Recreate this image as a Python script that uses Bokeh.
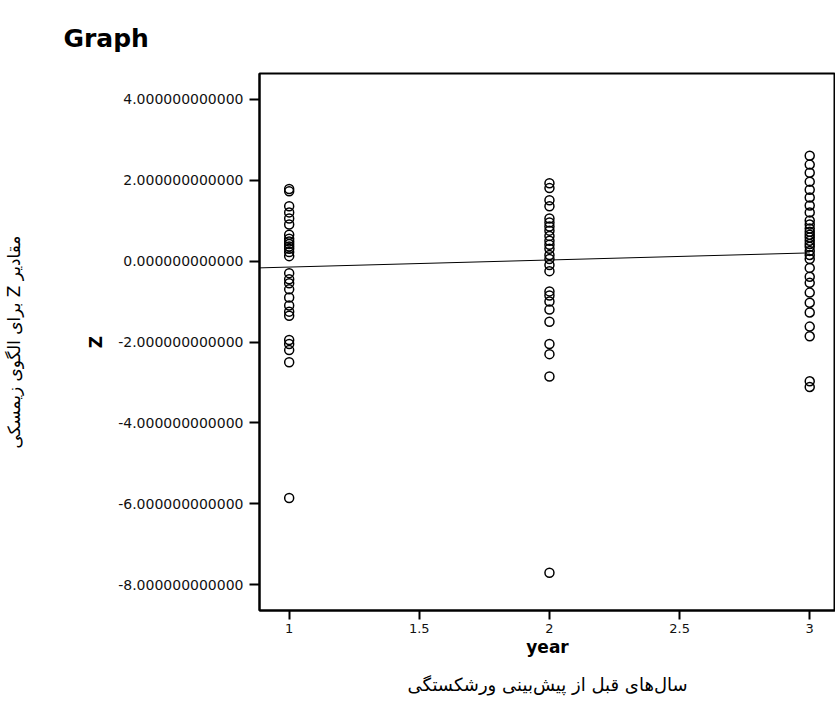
from bokeh.plotting import figure
from bokeh.models import FixedTicker, PrintfTickFormatter, Title, Range1d, LinearAxis
from bokeh.embed import file_html
from bokeh.resources import INLINE

# ---- data ----
year1_z = [1.78, 1.72, 1.35, 1.2, 1.05, 0.9, 0.65, 0.55, 0.48, 0.42, 0.36, 0.3, 0.22, 0.12,
           -0.3, -0.45, -0.55, -0.7, -0.9, -1.1, -1.25, -1.35, -1.95, -2.05, -2.2, -2.5, -5.85]
year2_z = [1.92, 1.8, 1.5, 1.35, 1.05, 0.95, 0.85, 0.75, 0.62, 0.5, 0.4, 0.3, 0.15, 0.05,
           -0.1, -0.25, -0.75, -0.85, -1.0, -1.2, -1.5, -2.05, -2.3, -2.85, -7.7]
year3_z = [2.6, 2.38, 2.18, 1.96, 1.76, 1.57, 1.37, 1.2, 1.0, 0.9, 0.8, 0.72, 0.65, 0.58, 0.5,
           0.42, 0.35, 0.25, 0.15, 0.05, -0.17, -0.39, -0.54, -0.78, -1.03, -1.27, -1.62,
           -1.86, -2.97, -3.11]
years = [1, 2, 3]
fit_x = [0.886, 3.0]
fit_z = [-0.17, 0.2]
x_ticks = [1, 1.5, 2, 2.5, 3]
y_ticks = [-8, -6, -4, -2, 0, 2, 4]

title_text = "Graph"
x_label = "year"
y_label = "Z"
x_label_fa = "سال‌های قبل از پیش‌بینی ورشکستگی"
y_label_fa = "\u202bمقادیر Z برای الگوی زیمسکی\u202c"

xs, ys = [], []
for yr, vals in zip(years, [year1_z, year2_z, year3_z]):
    xs += [yr] * len(vals)
    ys += vals

p = figure(width=835, height=706, output_backend="svg", toolbar_location=None,
           x_range=Range1d(0.886, 3.099), y_range=Range1d(-8.63, 4.63),
           min_border_left=254, min_border_right=0, min_border_top=73, min_border_bottom=93)

p.title.text = title_text
p.title.text_font = "DejaVu Sans"
p.title.text_font_size = "25px"
p.title.text_font_style = "bold"
p.title.text_color = "black"
p.title.align = "left"
p.title.offset = -196
p.title.standoff = 41

p.xgrid.visible = False
p.ygrid.visible = False
p.outline_line_color = "black"
p.outline_line_width = 2

p.line(fit_x, fit_z, line_color="black", line_width=1)
p.scatter(xs, ys, marker="circle", size=9, fill_color=None, line_color="black", line_width=1.5)

for ax in [p.xaxis[0], p.yaxis[0]]:
    ax.axis_line_color = "black"
    ax.axis_line_width = 2
    ax.major_tick_line_color = "black"
    ax.major_tick_line_width = 2
    ax.major_tick_in = 0
    ax.minor_tick_line_color = None
    ax.major_label_text_font = "DejaVu Sans"
    ax.major_label_text_font_size = "13px"
    ax.major_label_text_color = "#111111"
    ax.axis_label_text_font = "DejaVu Sans"
    ax.axis_label_text_font_style = "bold"
    ax.axis_label_text_font_size = "17px"
    ax.axis_label_text_color = "black"

p.xaxis.ticker = FixedTicker(ticks=x_ticks)
p.xaxis.major_tick_out = 9
p.xaxis.major_label_standoff = 4
p.xaxis.axis_label = x_label
p.xaxis.axis_label_standoff = 1

p.yaxis.ticker = FixedTicker(ticks=y_ticks)
p.yaxis.formatter = PrintfTickFormatter(format="%.12f")
p.yaxis.major_label_text_font_size = "14px"
p.yaxis.major_tick_out = 10
p.yaxis.major_label_standoff = 6
p.yaxis.axis_label = y_label
p.yaxis.axis_label_standoff = 9

# outer (Persian) label for the vertical axis, as a tick-less axis
fa_axis = LinearAxis(ticker=FixedTicker(ticks=[]), axis_line_color=None,
                     major_tick_line_color=None, minor_tick_line_color=None,
                     axis_label=y_label_fa, axis_label_standoff=60,
                     axis_label_text_font="DejaVu Sans", axis_label_text_font_size="17px",
                     axis_label_text_font_style="normal", axis_label_text_color="black")
p.add_layout(fa_axis, "left")

p.add_layout(Title(text=x_label_fa, align="center", text_font="DejaVu Sans",
                   text_font_size="18px", text_font_style="normal", text_color="black",
                   standoff=24), "below")

open("out.html", "w").write(file_html(p, INLINE))
